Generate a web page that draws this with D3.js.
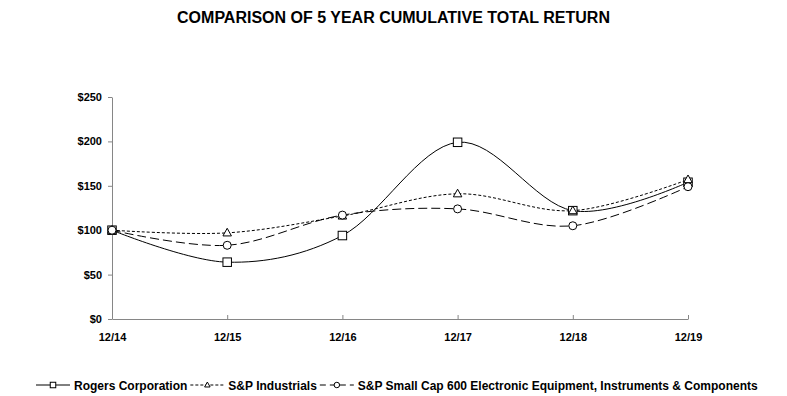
<!DOCTYPE html>
<html>
<head>
<meta charset="utf-8">
<script src="https://cdn.jsdelivr.net/npm/d3@7"></script>
<style>
  body { margin: 0; background: #fff; }
  text { font-family: "Liberation Sans", Arial, sans-serif; font-weight: bold; fill: #000; }
</style>
</head>
<body>
<div id="chart"></div>
<script>
const periods = ["12/14", "12/15", "12/16", "12/17", "12/18", "12/19"];
const rogers = [100, 64, 94, 199, 122, 154];
const industrials = [100, 97, 116, 141, 122, 157];
const smallCap = [100, 83, 117, 124, 105, 149];
const yTicks = [0, 50, 100, 150, 200, 250];

const seriesList = [
  { name: "Rogers Corporation", values: rogers, dash: null, marker: "square" },
  { name: "S&P Industrials", values: industrials, dash: "3,2", marker: "triangle" },
  { name: "S&P Small Cap 600 Electronic Equipment, Instruments & Components", values: smallCap, dash: "9,4", marker: "circle" }
];

const W = 787, H = 396;
const MARGIN = { TOP: 97, BOTTOM: 77, LEFT: 112, RIGHT: 99 };
const WIDTH = W - MARGIN.LEFT - MARGIN.RIGHT;
const HEIGHT = H - MARGIN.TOP - MARGIN.BOTTOM;

const svg = d3.select("#chart").append("svg")
  .attr("width", W)
  .attr("height", H);

// TITLE
svg.append("text")
  .attr("x", W / 2)
  .attr("y", 23)
  .attr("text-anchor", "middle")
  .attr("font-size", 16)
  .text("COMPARISON OF 5 YEAR CUMULATIVE TOTAL RETURN");

const g = svg.append("g")
  .attr("transform", `translate(${MARGIN.LEFT}, ${MARGIN.TOP})`);

const x = d3.scalePoint().domain(periods).range([0, WIDTH]);
const y = d3.scaleLinear().domain([0, 250]).range([HEIGHT, 0]);

// AXES
const yAxis = g.append("g")
  .call(d3.axisLeft(y).tickValues(yTicks).tickSize(4).tickSizeOuter(0).tickFormat(d => "$" + d));
const xAxis = g.append("g")
  .attr("transform", `translate(0, ${HEIGHT})`)
  .call(d3.axisBottom(x).tickSize(-4).tickSizeOuter(0).tickPadding(11));

[yAxis, xAxis].forEach(a => {
  a.select(".domain").attr("stroke", "#868686");
  a.selectAll(".tick line").attr("stroke", "#868686");
  a.selectAll("text").attr("font-size", 11).attr("font-family", null).attr("fill", "#000");
});
yAxis.selectAll("text").attr("dx", -3);
xAxis.selectAll("text").attr("dy", "1em");

// LINES
const line = d3.line()
  .x((d, i) => x(periods[i]))
  .y(d => y(d))
  .curve(d3.curveCardinal.tension(0));

function drawMarker(sel, type, size) {
  if (type === "square") {
    sel.append("rect")
      .attr("x", -size / 2).attr("y", -size / 2)
      .attr("width", size).attr("height", size);
  } else if (type === "triangle") {
    const h = size * 0.9;
    sel.append("path")
      .attr("d", `M0,${-h * 0.6}L${size / 2},${h * 0.4}L${-size / 2},${h * 0.4}Z`);
  } else {
    sel.append("circle").attr("r", size / 2);
  }
  sel.selectAll("*")
    .attr("fill", "#fff")
    .attr("stroke", "#000")
    .attr("stroke-width", 1);
}

seriesList.forEach(s => {
  g.append("path")
    .datum(s.values)
    .attr("fill", "none")
    .attr("stroke", "#000")
    .attr("stroke-width", 1)
    .attr("stroke-dasharray", s.dash)
    .attr("d", line);
});

seriesList.forEach(s => {
  s.values.forEach((v, i) => {
    const m = g.append("g")
      .attr("transform", `translate(${x(periods[i])}, ${y(v)})`);
    drawMarker(m, s.marker, s.marker === "circle" ? 8 : 8.5);
  });
});

// LEGEND
const legend = svg.append("g").attr("transform", "translate(0, 385)");
let lx = 36;
seriesList.forEach(s => {
  const item = legend.append("g").attr("transform", `translate(${lx}, 0)`);
  item.append("line")
    .attr("x1", 0).attr("x2", 34)
    .attr("y1", 0).attr("y2", 0)
    .attr("stroke", "#000")
    .attr("stroke-width", 1)
    .attr("stroke-dasharray", s.dash === "9,4" ? "6,4" : s.dash);
  const m = item.append("g").attr("transform", "translate(17, 0)");
  drawMarker(m, s.marker, 5.5);
  const t = item.append("text")
    .attr("x", 38)
    .attr("y", 4.5)
    .attr("font-size", 12)
    .text(s.name);
  lx += 38 + t.node().getComputedTextLength() + 3;
});
</script>
</body>
</html>
